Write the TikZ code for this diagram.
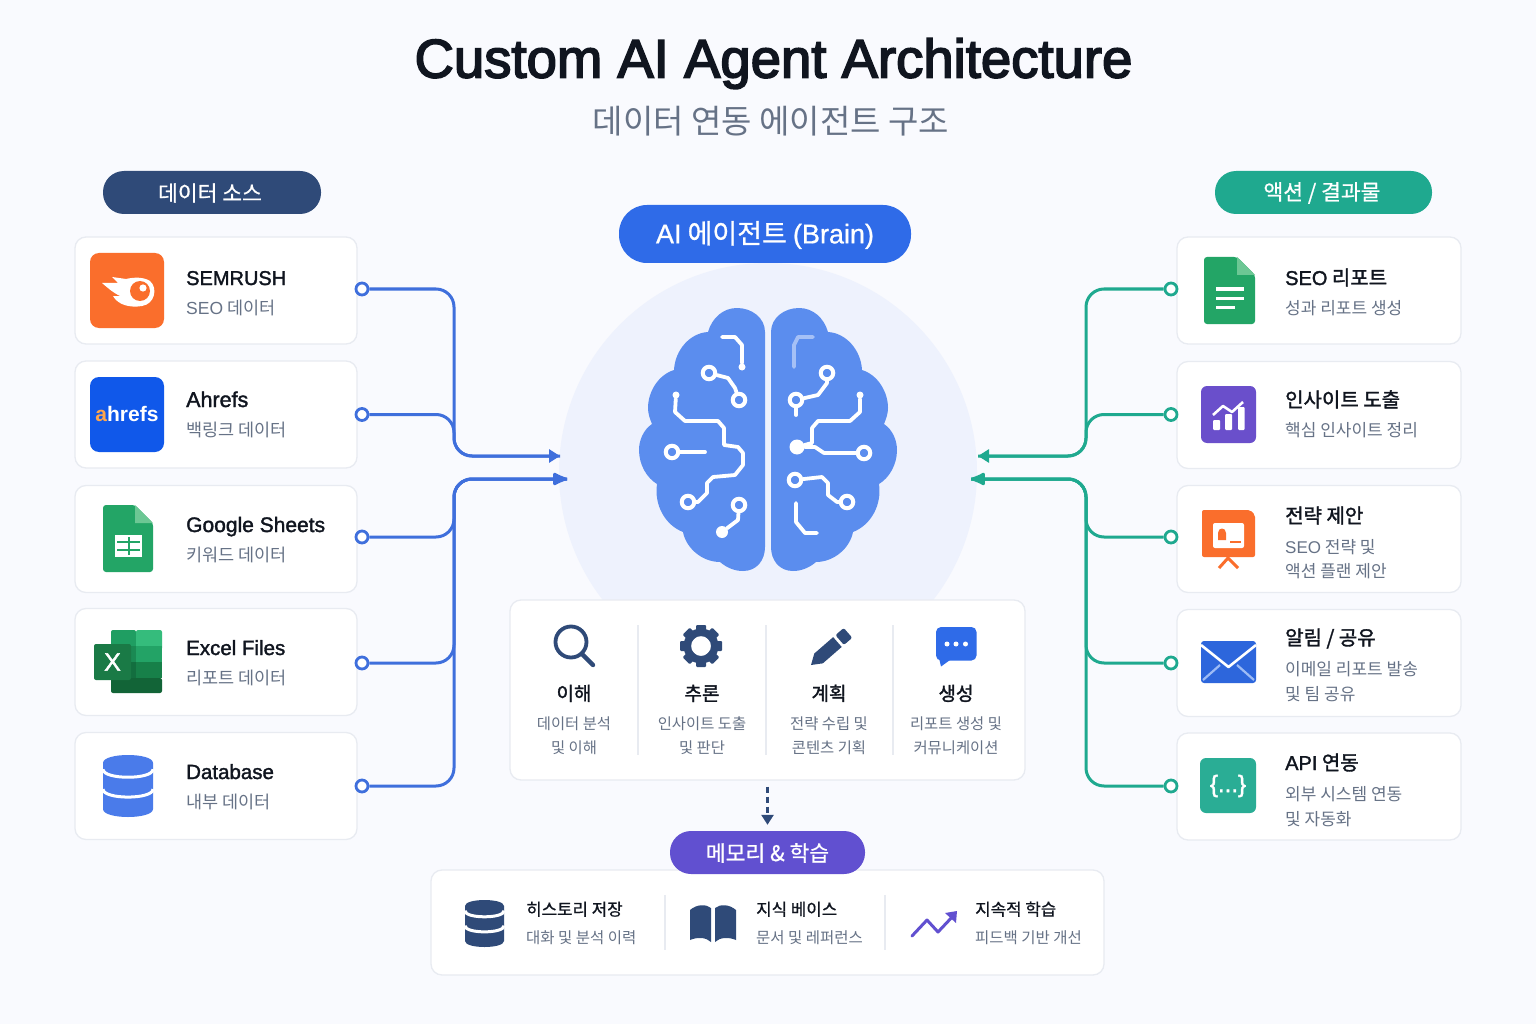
\documentclass[tikz,border=0pt]{standalone}
\usepackage{fontspec}
\usepackage{xcolor}
\usetikzlibrary{arrows.meta, shapes}
\setmainfont{Noto Sans CJK KR}
\newfontfamily\krmed[FakeBold=1.6]{Noto Sans CJK KR}
\newfontfamily\krsoft[FakeBold=0.8]{Noto Sans CJK KR}
\newfontfamily\latmed[FakeBold=1.6]{Liberation Sans}
\newfontfamily\lathead[FakeBold=3]{Liberation Sans}
\newfontfamily\latsoft[FakeBold=0.8]{Liberation Sans}
\newfontfamily\latreg{Liberation Sans}
\newfontfamily\latbold{Liberation Sans Bold}

\definecolor{pagebg}{HTML}{F9FAFE}
\definecolor{halo}{HTML}{EEF2FD}
\definecolor{cardline}{HTML}{E8EBF1}
\definecolor{navy}{HTML}{2F4A78}
\definecolor{flowblue}{HTML}{3F6FDC}
\definecolor{flowteal}{HTML}{1FA98F}
\definecolor{pillblue}{HTML}{2F6BE8}
\definecolor{pillviolet}{HTML}{6150D0}
\definecolor{brainblue}{HTML}{5B8DEE}
\definecolor{subgrey}{HTML}{667286}
\definecolor{inkdark}{HTML}{10151F}
\definecolor{sheetgreen}{HTML}{23A566}
\definecolor{foldgreen}{HTML}{6CC794}
\definecolor{iconorange}{HTML}{FA6E2C}
\definecolor{iconviolet}{HTML}{6A4FCB}
\definecolor{ahrefsblue}{HTML}{1058EA}
\definecolor{diskblue}{HTML}{4A7BEA}
\definecolor{xlA}{HTML}{35BC7C}
\definecolor{xlB}{HTML}{1F9E62}
\definecolor{xlC}{HTML}{23A366}
\definecolor{xlD}{HTML}{1A8A53}
\definecolor{xlE}{HTML}{178049}
\definecolor{xlF}{HTML}{136E3F}
\definecolor{xlG}{HTML}{126437}
\definecolor{xlFront}{HTML}{1A7A46}

\tikzset{
    cardbox/.style={draw=cardline, line width=1.3pt, fill=white, rounded corners=11pt, inner sep=0pt},
    srccard/.style={cardbox, minimum width=282pt, minimum height=107pt},
    outcard/.style={cardbox, minimum width=284pt, minimum height=107pt},
    pillbox/.style={rounded corners=21pt, text=white, inner sep=0pt, minimum height=43pt, font=\fontsize{21.5}{26}\krsoft},
    pilltext/.style={inner sep=0pt, text=white, font=\fontsize{21.5}{26}\krsoft},
    cardname/.style={anchor=west, inner sep=0pt, text=inkdark, text height=16pt, text depth=4pt, yshift=-1pt, font=\fontsize{20.5}{25}\latmed},
    cardsub/.style={anchor=west, inner sep=0pt, text=subgrey, text height=14pt, text depth=3pt, yshift=-1pt, font=\fontsize{17}{21}\selectfont},
    srcsub/.style={cardsub, font=\fontsize{17.5}{21}\selectfont},
    stepname/.style={inner sep=0pt, text=inkdark, text height=14pt, text depth=4pt, yshift=-2.5pt, font=\fontsize{19}{22}\krmed},
    stepsub/.style={inner sep=0pt, text=subgrey, text height=13pt, text depth=3pt, yshift=-1.5pt, font=\fontsize{15.4}{19}\selectfont},
    memname/.style={anchor=west, inner sep=0pt, text=inkdark, text height=14pt, text depth=3pt, yshift=-2pt, font=\fontsize{16.8}{21}\krsoft},
    memsub/.style={anchor=west, inner sep=0pt, text=subgrey, text height=13pt, text depth=3pt, yshift=-1.5pt, font=\fontsize{15.5}{19}\selectfont},
    srcport/.style={circle, draw=flowblue, fill=white, line width=2.8pt, inner sep=0pt, minimum size=12pt},
    outport/.style={circle, draw=flowteal, fill=white, line width=2.8pt, inner sep=0pt, minimum size=12pt},
    srcflow/.style={draw=flowblue, line width=3pt, rounded corners=18pt},
    outflow/.style={draw=flowteal, line width=3pt, rounded corners=18pt},
    divider/.style={draw=cardline, line width=1.6pt},
    tracewire/.style={draw=white, line width=3.8pt, line cap=round, line join=round},
    ringdot/.style={circle, draw=white, fill=brainblue, line width=4pt, inner sep=0pt, minimum size=12.5pt},
    tipdot/.style={circle, fill=white, inner sep=0pt, minimum size=7pt},
    hubdot/.style={circle, fill=white, inner sep=0pt, minimum size=15pt},
}

% one half of the brain, inner edge on the right
\newcommand{\brainhalf}{
    (765,547) -- (765,332) .. controls (765,318) and (752,308) .. (737,308)
    .. controls (723,308) and (712,318) .. (708,332)
    .. controls (690,333) and (675,350) .. (674,370)
    .. controls (658,375) and (648,392) .. (648,408)
    .. controls (648,414) and (650,419) .. (652,424)
    .. controls (643,430) and (639,441) .. (639,450)
    .. controls (639,465) and (647,478) .. (657,484)
    .. controls (654,505) and (665,525) .. (683,532)
    .. controls (686,548) and (702,562) .. (720,562)
    .. controls (727,568) and (735,571) .. (743,571)
    .. controls (757,571) and (765,560) .. (765,547) -- cycle}

% stacked disks: left, right, top, bottom, lid depth, colour
\newcommand{\stackdisks}[6]{
    \fill[#6] (#1,#3+#5) .. controls (#1,#3-#5/3) and (#2,#3-#5/3) .. (#2,#3+#5)
        -- (#2,#4-#5) .. controls (#2,#4+#5/3) and (#1,#4+#5/3) .. (#1,#4-#5) -- cycle;
    \draw[white, line width=3pt] (#1,#3+0.23*#4-0.23*#3) .. controls (#1,#3+0.23*#4-0.23*#3+1.33*#5) and (#2,#3+0.23*#4-0.23*#3+1.33*#5) .. (#2,#3+0.23*#4-0.23*#3);
    \draw[white, line width=3pt] (#1,#3+0.55*#4-0.55*#3) .. controls (#1,#3+0.55*#4-0.55*#3+1.33*#5) and (#2,#3+0.55*#4-0.55*#3+1.33*#5) .. (#2,#3+0.55*#4-0.55*#3);
}

\begin{document}
\begin{tikzpicture}[x=1pt, y=-1pt]
    \useasboundingbox (0,0) rectangle (1536,1024);
    \fill[pagebg] (0,0) rectangle (1536,1024);
    \fill[halo] (768,472) circle[radius=209];

    % headings
    \node[inner sep=0pt, text=inkdark, font=\fontsize{54.5}{60}\lathead] (title) at (773.5,63.5) {Custom AI Agent Architecture};
    \node[inner sep=0pt, text=subgrey, font=\fontsize{33}{40}\selectfont] (subtitle) at (771,121.5) {데이터 연동 에이전트 구조};
    \node[pillbox, fill=navy, minimum width=218pt] (srcPill) at (212,192.5) {};
    \node[pillbox, fill=flowteal, minimum width=217pt] (outPill) at (1323.5,192.5) {};
    \node[pillbox, fill=pillblue, minimum width=292pt, minimum height=58pt, rounded corners=28pt] (brainPill) at (765,234) {};
    \node[pilltext] (srcPillText) at (210,193) {데이터 소스};
    \node[pilltext] (outPillText) at (1322,193) {액션 / 결과물};
    \node[pilltext, font=\fontsize{27}{32}\krsoft] (brainPillText) at (765,235) {{\latsoft AI} 에이전트 {\latsoft (Brain)}};

    % source cards
    \node[srccard] (cardSemrush) at (216,290.5) {};
    \node[srccard] (cardAhrefs) at (216,414.5) {};
    \node[srccard] (cardSheets) at (216,539) {};
    \node[srccard] (cardExcel) at (216,662) {};
    \node[srccard] (cardDb) at (216,786) {};
    \node[cardname, font=\fontsize{20}{25}\latmed] (nameSemrush) at (186,278) {SEMRUSH};
    \node[srcsub] (subSemrush) at (186,308) {{\latreg SEO} 데이터};
    \node[cardname, font=\fontsize{21.5}{25}\latmed] (nameAhrefs) at (186,400) {Ahrefs};
    \node[srcsub] (subAhrefs) at (186,430) {백링크 데이터};
    \node[cardname, font=\fontsize{21}{25}\latmed] (nameSheets) at (186,525) {Google Sheets};
    \node[srcsub] (subSheets) at (186,555) {키워드 데이터};
    \node[cardname] (nameExcel) at (186,648) {Excel Files};
    \node[srcsub] (subExcel) at (186,678) {리포트 데이터};
    \node[cardname] (nameDb) at (186,772) {Database};
    \node[srcsub] (subDb) at (186,802) {내부 데이터};

    % result cards
    \node[outcard] (cardReport) at (1319,290.5) {};
    \node[outcard] (cardInsight) at (1319,415) {};
    \node[outcard] (cardPlan) at (1319,539) {};
    \node[outcard] (cardShare) at (1319,663) {};
    \node[outcard] (cardApi) at (1319,786.5) {};
    \node[cardname, font=\fontsize{20}{25}\krmed] (nameReport) at (1285,278) {{\latmed SEO} 리포트};
    \node[cardsub] (subReport) at (1285,308) {성과 리포트 생성};
    \node[cardname, font=\fontsize{20}{25}\krmed] (nameInsight) at (1285,400) {인사이트 도출};
    \node[cardsub] (subInsight) at (1285,430) {핵심 인사이트 정리};
    \node[cardname, font=\fontsize{20}{25}\krmed] (namePlan) at (1285,516) {전략 제안};
    \node[cardsub] (subPlanA) at (1285,547) {{\latreg SEO} 전략 및};
    \node[cardsub] (subPlanB) at (1285,571) {액션 플랜 제안};
    \node[cardname, font=\fontsize{20}{25}\krmed] (nameShare) at (1285,638) {알림 / 공유};
    \node[cardsub] (subShareA) at (1285,669) {이메일 리포트 발송};
    \node[cardsub] (subShareB) at (1285,694) {및 팀 공유};
    \node[cardname, font=\fontsize{20}{25}\krmed] (nameApi) at (1285,763) {{\latmed API} 연동};
    \node[cardsub] (subApiA) at (1285,794) {외부 시스템 연동};
    \node[cardsub] (subApiB) at (1285,819) {및 자동화};

    % flows into the brain
    \coordinate (busSrcA) at (454,456);
    \coordinate (busSrcB) at (454,479);
    \coordinate (inSrcA) at (560,456);
    \coordinate (inSrcB) at (567,479);
    \coordinate (busOutA) at (1086,456);
    \coordinate (busOutB) at (1086,479);
    \coordinate (inOutA) at (978,456);
    \coordinate (inOutB) at (971,479);
    \node[srcport] (portSemrush) at (362,289) {};
    \node[srcport] (portAhrefs) at (362,414.5) {};
    \node[srcport] (portSheets) at (362,537) {};
    \node[srcport] (portExcel) at (362,663) {};
    \node[srcport] (portDb) at (362,786) {};
    \node[outport] (portReport) at (1171,289) {};
    \node[outport] (portInsight) at (1171,414.5) {};
    \node[outport] (portPlan) at (1171,537) {};
    \node[outport] (portShare) at (1171,663) {};
    \node[outport] (portApi) at (1171,786) {};
    \draw[srcflow] (portAhrefs) -| (busSrcA) -- (inSrcA);
    \draw[srcflow, -{Stealth[length=11pt, width=13pt, inset=0pt]}] (portSemrush) -| (busSrcA) -- (inSrcA);
    \draw[srcflow] (portSheets) -| (busSrcB) -- (inSrcB);
    \draw[srcflow] (portExcel) -| (busSrcB) -- (inSrcB);
    \draw[srcflow, -{Latex[length=18pt, width=15pt, round]}] (portDb) -| (busSrcB) -- (inSrcB);
    \draw[outflow] (portInsight) -| (busOutA) -- (inOutA);
    \draw[outflow, -{Stealth[length=11pt, width=13pt, inset=0pt]}] (portReport) -| (busOutA) -- (inOutA);
    \draw[outflow] (portPlan) -| (busOutB) -- (inOutB);
    \draw[outflow] (portShare) -| (busOutB) -- (inOutB);
    \draw[outflow, -{Latex[length=18pt, width=15pt, round]}] (portApi) -| (busOutB) -- (inOutB);

    % brain
    \fill[brainblue] \brainhalf;
    \begin{scope}[shift={(1536,0)}, xscale=-1]
        \fill[brainblue] \brainhalf;
    \end{scope}
    \node[tipdot] (endA) at (742,367) {};
    \draw[tracewire] (722,337) -- (735,337) -- (742,345) -- (endA);
    \node[ringdot] (ringA) at (709,373) {};
    \node[ringdot] (ringB) at (739,400) {};
    \draw[tracewire] (ringA) -- (728,378) -- (735,388) -- (ringB);
    \node[tipdot] (endB) at (676,395) {};
    \node[ringdot] (ringC) at (688,502) {};
    \draw[tracewire] (endB) -- (675,412) -- (685,421) -- (718,421) -- (724,428) -- (724,445) -- (738,447) -- (743,453) -- (743,465) -- (735,475) -- (713,477) -- (707,483) -- (707,493) -- (698,502) -- (ringC);
    \node[ringdot] (ringD) at (672,452) {};
    \coordinate (endD) at (705,452);
    \draw[tracewire] (ringD) -- (endD);
    \node[ringdot] (ringE) at (739,505) {};
    \node[hubdot, minimum size=12pt] (hubE) at (722,532) {};
    \draw[tracewire] (ringE) -- (738,520) -- (hubE);
    \coordinate (endF) at (794,367);
    \draw[draw=brainblue!55!white, line width=3.8pt, line cap=round, line join=round] (813,337) -- (798,337) -- (794,345) -- (endF);
    \node[ringdot] (ringG) at (827,373) {};
    \node[ringdot] (ringH) at (796,400) {};
    \draw[tracewire] (ringG) -- (827,383) -- (818,395) -- (ringH);
    \coordinate (endH) at (796,415);
    \draw[tracewire] (ringH) -- (endH);
    \node[tipdot] (endI) at (860,395) {};
    \node[hubdot] (hubI) at (797,447) {};
    \draw[tracewire] (endI) -- (860,412) -- (850,421) -- (818,421) -- (812,428) -- (812,443) -- (hubI);
    \node[ringdot] (ringJ) at (864,453) {};
    \draw[tracewire] (hubI) -- (815,447) -- (824,453) -- (ringJ);
    \node[ringdot] (ringK) at (795,480) {};
    \node[ringdot] (ringL) at (847,502) {};
    \draw[tracewire] (ringK) -- (822,477) -- (828,483) -- (828,495) -- (837,502) -- (ringL);
    \coordinate (endM) at (817,533);
    \draw[tracewire] (796,503) -- (796,522) -- (805,533) -- (endM);

    % agent steps
    \node[cardbox, minimum width=515pt, minimum height=180pt] (stepPanel) at (767.5,690) {};
    \draw[divider] (638,625) -- (638,755);
    \draw[divider] (766,625) -- (766,755);
    \draw[divider] (893,625) -- (893,755);
    \node[stepname] (nameRead) at (574,693) {이해};
    \node[stepsub] (subReadA) at (574,723) {데이터 분석};
    \node[stepsub] (subReadB) at (574,747) {및 이해};
    \node[stepname] (nameReason) at (702,693) {추론};
    \node[stepsub] (subReasonA) at (702,723) {인사이트 도출};
    \node[stepsub] (subReasonB) at (702,747) {및 판단};
    \node[stepname] (namePlanning) at (829,693) {계획};
    \node[stepsub] (subPlanningA) at (829,723) {전략 수립 및};
    \node[stepsub] (subPlanningB) at (829,747) {콘텐츠 기획};
    \node[stepname] (nameMake) at (956,693) {생성};
    \node[stepsub] (subMakeA) at (956,723) {리포트 생성 및};
    \node[stepsub] (subMakeB) at (956,747) {커뮤니케이션};
    % magnifier
    \draw[navy, line width=3.8pt] (571,642) circle[radius=15.5];
    \draw[navy, line width=4.4pt, line cap=round] (582,654) -- (593,665);
    % gear
    \foreach \a in {0,45,...,315}
        \fill[navy, rotate around={\a:(701,646)}, rounded corners=1pt] (696,625) rectangle (706,636);
    \fill[navy, even odd rule] (701,646) circle[radius=17.5] (701,646) circle[radius=10];
    % pencil
    \begin{scope}[shift={(811,665)}, rotate=41]
        \fill[navy] (0,0) -- (10,-6.5) -- (35,-6.5) -- (35,6.5) -- (10,6.5) -- cycle;
        \fill[navy, rounded corners=2pt] (38,-6.5) rectangle (49,6.5);
    \end{scope}
    % speech bubble
    \fill[pillblue, rounded corners=5pt] (936,627) rectangle (976.5,660.5);
    \fill[pillblue] (939,658) -- (941,666.5) -- (950,660) -- cycle;
    \fill[white] (947,644) circle[radius=2.5] (956,644) circle[radius=2.5] (965.5,644) circle[radius=2.5];

    % memory
    \node[cardbox, minimum width=673pt, minimum height=105pt] (memPanel) at (767.5,922.5) {};
    \node[pillbox, fill=pillviolet, minimum width=195pt] (memPill) at (767.5,852.5) {};
    \node[pilltext] (memPillText) at (767.5,853) {메모리 \& 학습};
    \draw[navy, line width=2.6pt, dashed, dash pattern=on 6pt off 4pt, shorten <=6pt, shorten >=6pt, -{Stealth[length=10pt, width=12pt, inset=0pt]}] (stepPanel.south) -- (memPill.north);
    \draw[divider] (665,895) -- (665,950);
    \draw[divider] (885,895) -- (885,950);
    \node[memname] (nameHistory) at (526,908) {히스토리 저장};
    \node[memsub] (subHistory) at (526,937) {대화 및 분석 이력};
    \node[memname] (nameKnow) at (756,908) {지식 베이스};
    \node[memsub] (subKnow) at (756,937) {문서 및 레퍼런스};
    \node[memname] (nameLearn) at (975,908) {지속적 학습};
    \node[memsub] (subLearn) at (975,937) {피드백 기반 개선};
    \stackdisks{465}{504}{900}{947}{6}{navy}
    % book
    \fill[navy] (690,910) .. controls (697,904) and (706,904) .. (711,908) -- (711,942) .. controls (706,937) and (697,937) .. (690,940) -- cycle;
    \fill[navy] (736,910) .. controls (729,904) and (720,904) .. (715,908) -- (715,942) .. controls (720,937) and (729,937) .. (736,940) -- cycle;
    % rising line
    \draw[pillviolet, line width=3pt, line join=round, line cap=round] (912,936) -- (927,920) -- (938,932) -- (954,915);
    \fill[pillviolet] (957,911) -- (956,923) -- (945,913) -- cycle;

    % source icons
    \fill[iconorange, rounded corners=9pt] (90,253) rectangle (164,328);
    \fill[white] (102,283) -- (118,283) -- (112,277) -- (126,279) .. controls (134,277) and (144,277) .. (150,281) .. controls (158,288) and (155,304) .. (142,306) .. controls (130,308) and (118,305) .. (113,296) -- (120,296) .. controls (112,292) and (108,288) .. cycle;
    \fill[iconorange] (140,291) circle[radius=10];
    \fill[white] (143,288) circle[radius=3.6];
    \fill[ahrefsblue, rounded corners=9pt] (90,377) rectangle (164,452);
    \node[inner sep=0pt, text=white, font=\fontsize{21}{25}\latbold] (logoAhrefs) at (127,414) {\textcolor{orange!70!white}{a}hrefs};
    \fill[sheetgreen, rounded corners=3pt] (103,505) -- (135,505) -- (153,523) -- (153,572) -- (103,572) -- cycle;
    \fill[foldgreen] (135,505) -- (153,523) -- (135,523) -- cycle;
    \fill[white] (115,535) rectangle (142,557);
    \draw[sheetgreen, line width=2pt] (117,542) -- (140,542) (117,550) -- (140,550) (128.5,537) -- (128.5,555);
    \fill[xlB, rounded corners=2pt] (111,630) rectangle (136,650);
    \fill[xlA, rounded corners=2pt] (136,630) rectangle (162,650);
    \fill[xlD] (111,646) rectangle (136,662);
    \fill[xlC] (136,646) rectangle (162,662);
    \fill[xlF] (111,662) rectangle (136,678);
    \fill[xlE] (136,662) rectangle (162,678);
    \fill[xlG, rounded corners=2pt] (111,678) rectangle (162,693);
    \fill[xlFront, rounded corners=2pt] (94,644) rectangle (131,680);
    \node[inner sep=0pt, text=white, font=\fontsize{25}{28}\latmed] (logoExcel) at (112.5,662) {X};
    \stackdisks{103}{153}{755}{817}{8}{diskblue}

    % result icons
    \fill[sheetgreen, rounded corners=3pt] (1204,257) -- (1237,257) -- (1255,275) -- (1255,324) -- (1204,324) -- cycle;
    \fill[foldgreen] (1237,257) -- (1255,275) -- (1237,275) -- cycle;
    \draw[white, line width=3pt] (1216,289) -- (1244,289) (1216,298) -- (1244,298) (1216,307) -- (1235,307);
    \fill[iconviolet, rounded corners=6pt] (1201,386) rectangle (1256,443);
    \fill[white, rounded corners=1pt] (1213,420) rectangle (1220,430) (1225,414) rectangle (1232,430) (1238,407) rectangle (1244.5,430);
    \draw[white, line width=2.6pt, line join=round] (1213,415) -- (1223,406) -- (1232,412) -- (1243,402);
    \fill[iconorange, rounded corners=2pt] (1202,510) -- (1250,510) -- (1255,515) -- (1255,557) -- (1202,557) -- cycle;
    \fill[white, rounded corners=2pt] (1213,523) rectangle (1244,548);
    \fill[iconorange] (1218,540) -- (1218,533) .. controls (1218,527) and (1226,527) .. (1226,533) -- (1226,540) -- cycle;
    \draw[iconorange, line width=2pt] (1230,542) -- (1241,542);
    \draw[iconorange, line width=3pt] (1219,568) -- (1228,558) -- (1238,568);
    \fill[pillblue!95!black, rounded corners=3pt] (1201,641) rectangle (1256,683);
    \draw[brainblue!60!white, line width=2.2pt] (1203,680) -- (1220,665) (1254,680) -- (1237,665);
    \draw[white, line width=2.6pt, line join=round] (1201,645) -- (1228.5,667) -- (1256,645);
    \fill[flowteal!95!white, rounded corners=6pt] (1200,758) rectangle (1256,813);
    \node[inner sep=0pt, text=white, font=\fontsize{24}{28}\latmed] (logoApi) at (1228,786) {\{...\}};
\end{tikzpicture}
\end{document}
